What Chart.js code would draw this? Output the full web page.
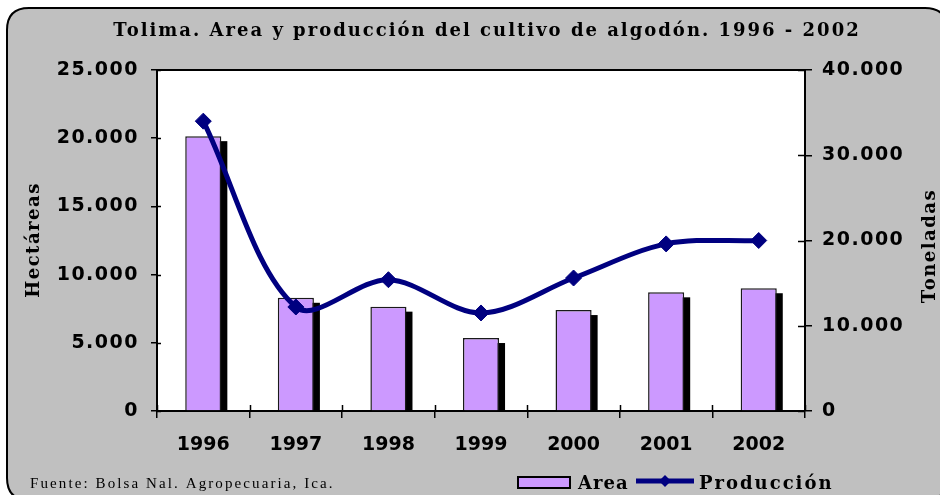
<!DOCTYPE html>
<html>
<head>
<meta charset="utf-8">
<script src="https://cdn.jsdelivr.net/npm/chart.js@4/dist/chart.umd.min.js"></script>
<style>
  html, body { margin: 0; padding: 0; background: #ffffff; }
  #wrap { width: 940px; height: 495px; position: relative; }
</style>
</head>
<body>
<div id="wrap"><canvas id="c" width="940" height="495"></canvas></div>
<script>
// ---- Data ----
const years = ['1996', '1997', '1998', '1999', '2000', '2001', '2002'];
const areaHa = [20150, 8300, 7650, 5350, 7400, 8700, 9000];
const produccionTon = [34000, 12200, 15400, 11500, 15600, 19600, 20000];
const leftTicks = [0, 5000, 10000, 15000, 20000, 25000];
const rightTicks = [0, 10000, 20000, 30000, 40000];

const titleText = 'Tolima. Area y producción del cultivo de algodón. 1996 - 2002';
const leftAxisTitle = 'Hectáreas';
const rightAxisTitle = 'Toneladas';
const sourceText = 'Fuente: Bolsa Nal. Agropecuaria, Ica.';
const legendArea = 'Area';
const legendProd = 'Producción';

const BAR_COLOR = '#CC99FF';
const LINE_COLOR = '#000080';
const BG_GREY = '#C0C0C0';

function fmt(v) {
  return Math.round(v).toString().replace(/\B(?=(\d{3})+(?!\d))/g, '.');
}

function roundRect(ctx, x, y, w, h, r) {
  ctx.beginPath();
  ctx.moveTo(x + r, y);
  ctx.lineTo(x + w - r, y);
  ctx.quadraticCurveTo(x + w, y, x + w, y + r);
  ctx.lineTo(x + w, y + h - r);
  ctx.quadraticCurveTo(x + w, y + h, x + w - r, y + h);
  ctx.lineTo(x + r, y + h);
  ctx.quadraticCurveTo(x, y + h, x, y + h - r);
  ctx.lineTo(x, y + r);
  ctx.quadraticCurveTo(x, y, x + r, y);
  ctx.closePath();
}

const decorPlugin = {
  id: 'decor',
  afterLayout(chart) {
    // per-scale letter spacing for tick labels
    const spacing = { x: '0px', yL: '1.5px', yR: '1.5px' };
    Object.keys(spacing).forEach(id => {
      const sc = chart.scales[id];
      if (sc && !sc._lsWrapped) {
        const orig = sc.drawLabels.bind(sc);
        sc.drawLabels = function (area) {
          const ctx = chart.ctx;
          const prev = ctx.letterSpacing;
          ctx.letterSpacing = spacing[id];
          orig(area);
          ctx.letterSpacing = prev || '0px';
        };
        sc._lsWrapped = true;
      }
    });
  },
  beforeDraw(chart) {
    const ctx = chart.ctx;
    const a = chart.chartArea;
    ctx.save();
    ctx.fillStyle = '#ffffff';
    ctx.fillRect(0, 0, chart.width, chart.height);
    roundRect(ctx, 7, 8, 940, 492, 22);
    ctx.fillStyle = BG_GREY;
    ctx.fill();
    ctx.lineWidth = 2;
    ctx.strokeStyle = '#000000';
    ctx.stroke();
    ctx.fillStyle = '#ffffff';
    ctx.fillRect(a.left, a.top, a.right - a.left, a.bottom - a.top);
    ctx.restore();
  },
  beforeDatasetDraw(chart, args) {
    if (args.index === 0) {
      // black drop shadow behind each bar, placed from the bar elements' own geometry
      const ctx = chart.ctx;
      const a = chart.chartArea;
      ctx.save();
      ctx.beginPath();
      ctx.rect(a.left, a.top, a.right - a.left, a.bottom - a.top);
      ctx.clip();
      ctx.fillStyle = '#000000';
      args.meta.data.forEach(bar => {
        const p = bar.getProps(['x', 'y', 'base', 'width'], true);
        ctx.fillRect(p.x - p.width / 2 + 6, p.y + 5, p.width, p.base - p.y);
      });
      ctx.restore();
    }
  },
  afterDraw(chart) {
    const ctx = chart.ctx;
    const a = chart.chartArea;
    ctx.save();
    // top border of plot area
    ctx.strokeStyle = '#000000';
    ctx.lineWidth = 2;
    ctx.beginPath();
    ctx.moveTo(a.left, a.top);
    ctx.lineTo(a.right, a.top);
    ctx.stroke();
    // inner halves of crossing tick marks
    ctx.lineWidth = 1.5;
    ctx.beginPath();
    const yL = chart.scales.yL, yR = chart.scales.yR, x = chart.scales.x;
    leftTicks.forEach(v => {
      const p = Math.round(yL.getPixelForValue(v)) + 0.5;
      ctx.moveTo(a.left, p); ctx.lineTo(a.left + 4, p);
    });
    rightTicks.forEach(v => {
      const p = Math.round(yR.getPixelForValue(v)) + 0.5;
      ctx.moveTo(a.right, p); ctx.lineTo(a.right - 7, p);
    });
    for (let i = 0; i <= years.length; i++) {
      const p = Math.round(x.getPixelForValue(i - 0.5)) + 0.5;
      ctx.moveTo(p, a.bottom); ctx.lineTo(p, a.bottom - 6);
    }
    ctx.stroke();

    // Title
    ctx.fillStyle = '#000000';
    ctx.letterSpacing = '2px';
    ctx.font = 'bold 18px "DejaVu Serif"';
    ctx.textAlign = 'center';
    ctx.textBaseline = 'alphabetic';
    ctx.fillText(titleText, 487, 36);

    // Axis titles (both read bottom-to-top)
    ctx.letterSpacing = '1.5px';
    ctx.font = 'bold 18px "DejaVu Serif"';
    ctx.save();
    ctx.translate(39, 240);
    ctx.rotate(-Math.PI / 2);
    ctx.textAlign = 'center';
    ctx.fillText(leftAxisTitle, 0, 0);
    ctx.restore();
    ctx.save();
    ctx.translate(935, 246);
    ctx.rotate(-Math.PI / 2);
    ctx.textAlign = 'center';
    ctx.fillText(rightAxisTitle, 0, 0);
    ctx.restore();

    // Source note
    ctx.letterSpacing = '2.1px';
    ctx.font = '15px "Liberation Serif"';
    ctx.textAlign = 'left';
    ctx.fillText(sourceText, 30, 488);

    // Legend
    ctx.letterSpacing = '0px';
    ctx.fillStyle = BAR_COLOR;
    ctx.fillRect(518, 477, 52, 11);
    ctx.strokeStyle = '#000000';
    ctx.lineWidth = 2;
    ctx.strokeRect(518, 477, 52, 11);
    ctx.letterSpacing = '1px';
    ctx.font = 'bold 18px "DejaVu Serif"';
    ctx.fillStyle = '#000000';
    ctx.fillText(legendArea, 578, 489);
    ctx.strokeStyle = LINE_COLOR;
    ctx.lineWidth = 5;
    ctx.beginPath();
    ctx.moveTo(636, 481);
    ctx.lineTo(694, 481);
    ctx.stroke();
    ctx.fillStyle = LINE_COLOR;
    ctx.beginPath();
    ctx.moveTo(665, 475); ctx.lineTo(671, 481); ctx.lineTo(665, 487); ctx.lineTo(659, 481);
    ctx.closePath();
    ctx.fill();
    ctx.fillStyle = '#000000';
    ctx.letterSpacing = '2px';
    ctx.fillText(legendProd, 699, 489);
    ctx.restore();
  }
};

const ctx = document.getElementById('c').getContext('2d');
new Chart(ctx, {
  data: {
    labels: years,
    datasets: [
      {
        type: 'bar',
        label: legendArea,
        data: areaHa,
        yAxisID: 'yL',
        backgroundColor: BAR_COLOR,
        borderColor: '#1a1a1a',
        borderWidth: 1.5,
        borderSkipped: 'bottom',
        categoryPercentage: 1,
        barPercentage: 0.39,
        order: 2
      },
      {
        type: 'line',
        label: legendProd,
        data: produccionTon,
        yAxisID: 'yR',
        borderColor: LINE_COLOR,
        backgroundColor: LINE_COLOR,
        borderWidth: 5,
        tension: 0.33,
        pointStyle: 'rectRot',
        pointRadius: 8,
        pointBorderWidth: 1,
        pointBackgroundColor: LINE_COLOR,
        pointBorderColor: LINE_COLOR,
        fill: false,
        order: 1
      }
    ]
  },
  options: {
    responsive: false,
    animation: false,
    devicePixelRatio: 1,
    layout: { padding: { top: 70, left: 0, right: 0, bottom: 0 } },
    plugins: {
      legend: { display: false },
      title: { display: false },
      tooltip: { enabled: false }
    },
    scales: {
      x: {
        type: 'category',
        offset: true,
        grid: {
          offset: true,
          drawOnChartArea: false,
          drawTicks: true,
          tickLength: 7,
          color: '#000000',
          lineWidth: 1.5
        },
        border: { display: true, color: '#000000', width: 2 },
        ticks: {
          color: '#000000',
          font: { family: 'DejaVu Sans', weight: 'bold', size: 19 },
          padding: 16,
          maxRotation: 0
        },
        afterFit(scale) { scale.height = 84; }
      },
      yL: {
        type: 'linear',
        position: 'left',
        min: 0,
        max: 25000,
        afterBuildTicks(scale) { scale.ticks = leftTicks.map(v => ({ value: v })); },
        grid: {
          drawOnChartArea: false,
          tickLength: 6,
          color: '#000000',
          lineWidth: 1.5
        },
        border: { display: true, color: '#000000', width: 2 },
        ticks: {
          color: '#000000',
          font: { family: 'DejaVu Sans', weight: 'bold', size: 19 },
          padding: 12,
          callback: v => fmt(v)
        },
        afterFit(scale) { scale.width = 157; }
      },
      yR: {
        type: 'linear',
        position: 'right',
        min: 0,
        max: 40000,
        afterBuildTicks(scale) { scale.ticks = rightTicks.map(v => ({ value: v })); },
        grid: {
          drawOnChartArea: false,
          tickLength: 7,
          color: '#000000',
          lineWidth: 1.5
        },
        border: { display: true, color: '#000000', width: 2 },
        ticks: {
          color: '#000000',
          font: { family: 'DejaVu Sans', weight: 'bold', size: 19 },
          padding: 10,
          callback: v => fmt(v)
        },
        afterFit(scale) { scale.width = 135; }
      }
    }
  },
  plugins: [decorPlugin]
});
</script>
</body>
</html>
